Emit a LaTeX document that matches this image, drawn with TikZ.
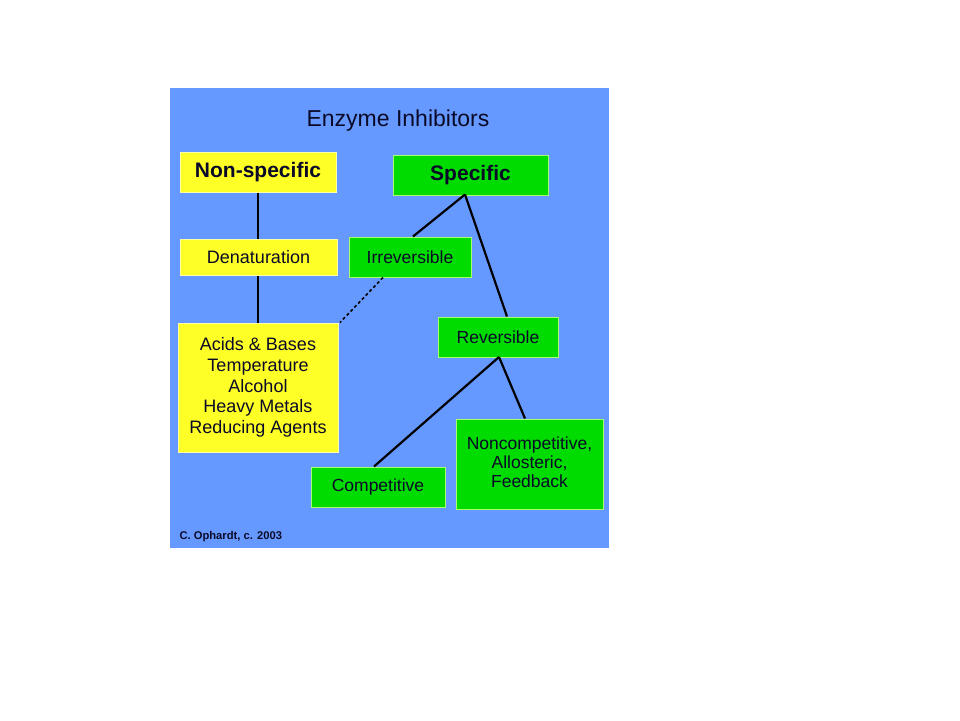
\documentclass[tikz,border=0pt]{standalone}
\usepackage{fontspec}
\setmainfont{Liberation Sans}
\definecolor{bgblue}{RGB}{102,153,255}
\definecolor{ybox}{RGB}{255,255,40}
\definecolor{yedge}{RGB}{255,255,170}
\definecolor{gbox}{RGB}{0,220,0}
\definecolor{gedge}{RGB}{170,255,110}
\definecolor{ink}{RGB}{10,10,40}
\begin{document}
\begin{tikzpicture}[x=1pt,y=-1pt,
  ybx/.style={draw=yedge,line width=1pt,fill=ybox,inner sep=0pt,text=ink,align=center},
  gbx/.style={draw=gedge,line width=1pt,fill=gbox,inner sep=0pt,text=ink,align=center},
  link/.style={draw=black,line width=2.2pt},
  dotlink/.style={draw=black,line width=1.6pt,dash pattern=on 3pt off 2.5pt}]
\useasboundingbox (0,0) rectangle (960,720);
\fill[white] (0,0) rectangle (960,720);
\fill[bgblue] (170,88) rectangle (609,548);
\node[text=ink,font=\fontsize{23}{26}\selectfont] (title) at (398,121) {Enzyme Inhibitors};
\node[ybx,minimum width=156pt,minimum height=40pt,font=\fontsize{21}{24}\selectfont\bfseries] (nons) at (258,172) {Non-specific};
\node[gbx,minimum width=155pt,minimum height=40pt,font=\fontsize{21}{24}\selectfont\bfseries] (spec) at (470.5,175) {Specific};
\node[ybx,minimum width=157pt,minimum height=36pt,font=\fontsize{18}{20}\selectfont] (den) at (258.5,257) {Denaturation};
\node[gbx,minimum width=122pt,minimum height=40pt,font=\fontsize{17.5}{20}\selectfont] (irr) at (410,257) {Irreversible};
\node[ybx,minimum width=160pt,minimum height=129pt,font=\fontsize{18}{20.7}\selectfont] (acid) at (258,387.5) {Acids \& Bases\\Temperature\\Alcohol\\Heavy Metals\\Reducing Agents};
\node[gbx,minimum width=120pt,minimum height=40pt,font=\fontsize{17.5}{20}\selectfont] (rev) at (498,337) {Reversible};
\node[gbx,minimum width=134pt,minimum height=40pt,font=\fontsize{17.5}{20}\selectfont] (comp) at (378,487) {\raisebox{-3pt}{Competitive}};
\node[gbx,minimum width=147pt,minimum height=90pt,font=\fontsize{17.5}{20}\selectfont] (nonc) at (529.5,464) {\raisebox{5pt}{\begin{tabular}{@{}c@{}}Noncompetitive,\\[-1pt]Allosteric,\\[-1pt]Feedback\end{tabular}}};
\node[anchor=west,text=ink,font=\fontsize{11.2}{13}\selectfont\bfseries] (cred) at (176,537) {C. Ophardt, c. 2003};
\coordinate (sb) at (465,194.5);
\coordinate (rb) at (499,357);
\draw[link] (nons.south -| 258,0) -- (den.north -| 258,0);
\draw[link] (den.south -| 258,0) -- (acid.north -| 258,0);
\draw[link] (sb) -- (irr.north -| 413,0);
\draw[link] (sb) -- (rev.north -| 507,0);
\draw[dotlink] (irr.south -| 383,0) -- (acid.north east -| 340,0);
\draw[link] (rb) -- (comp.north -| 374,0);
\draw[link] (rb) -- (nonc.north -| 525,0);
\end{tikzpicture}
\end{document}
